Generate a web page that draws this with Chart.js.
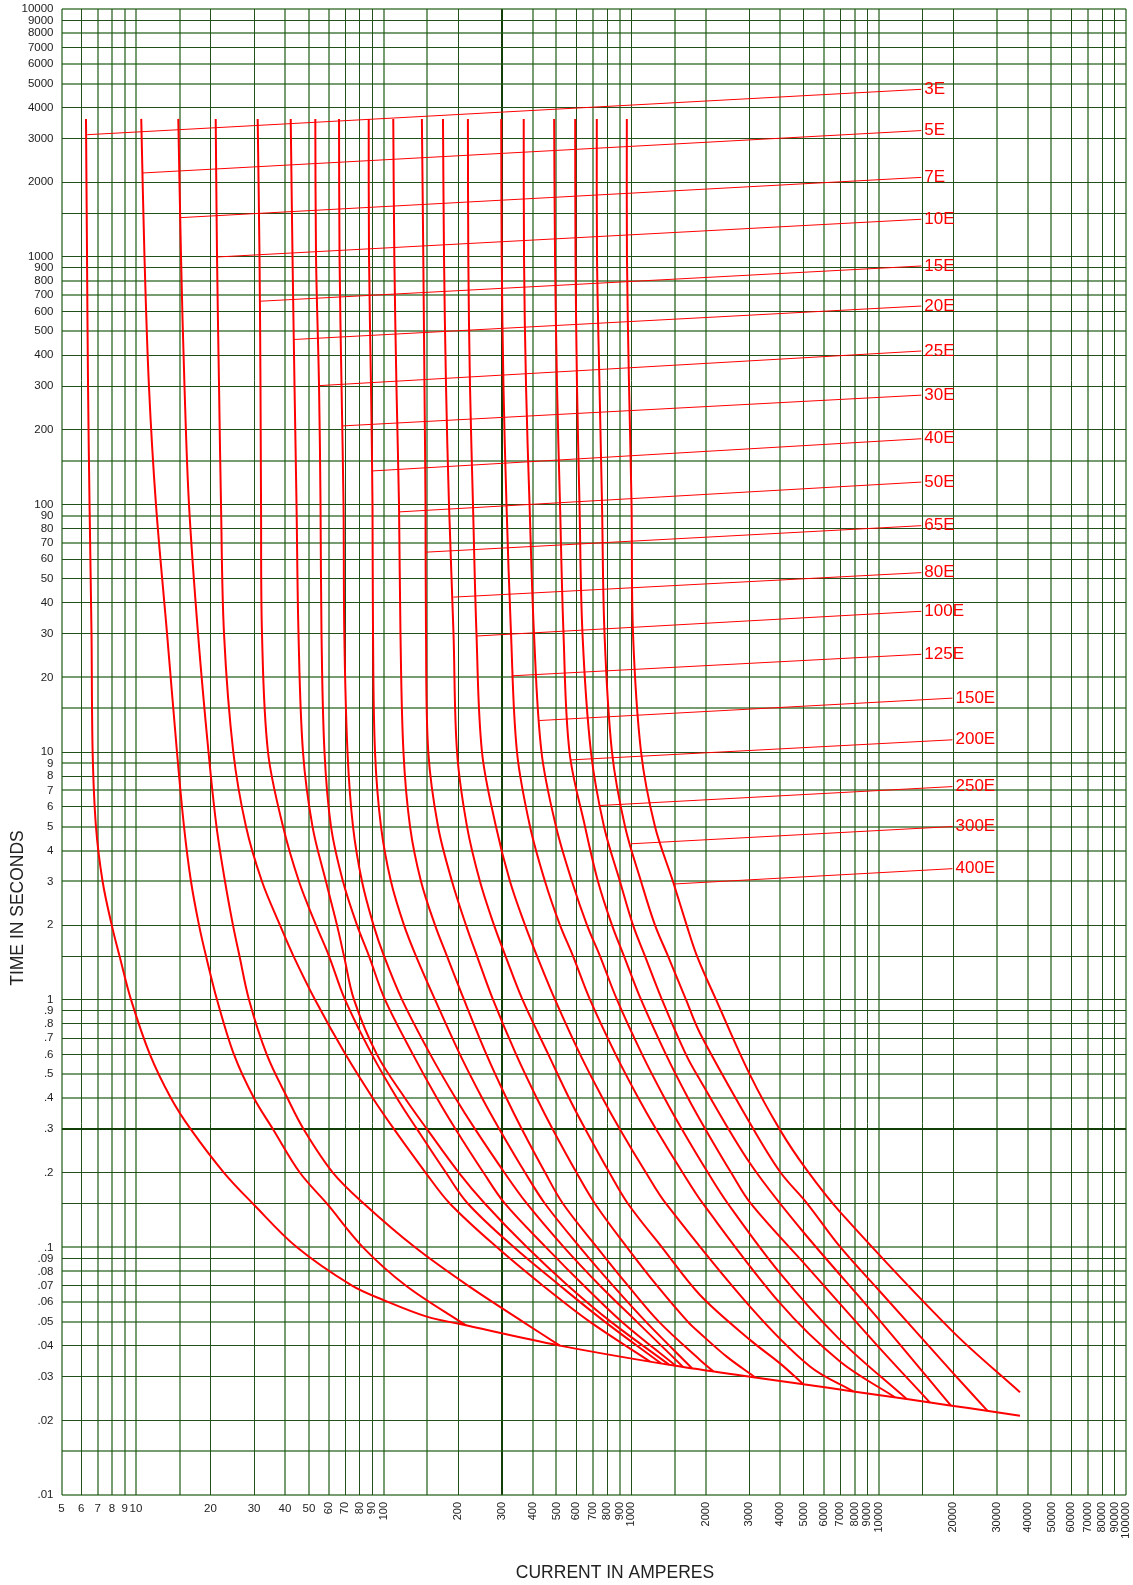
<!DOCTYPE html>
<html>
<head>
<meta charset="utf-8">
<script src="https://cdn.jsdelivr.net/npm/chart.js@4.4.0/dist/chart.umd.min.js"></script>
<style>
  html, body { margin: 0; padding: 0; background: #ffffff; }
  canvas { display: block; }
</style>
</head>
<body>
<canvas id="graficoFusiveis" width="1133" height="1585"></canvas>
<script>
// fuse ratings, in the order of the curves
const ratings = ['3E','5E','7E','10E','15E','20E','25E','30E','40E','50E','65E','80E','100E','125E','150E','200E','250E','300E','400E'];

// each curve: [amperes, seconds], read from the top down
const curve3E = [[6.28,3600],[6.34,1000],[6.40,300],[6.49,100],[6.61,30],[6.68,10],[6.89,5],[7.33,3],[7.98,2],[8.58,1.5],[9.545,1],[11.39,0.6],[13.85,0.4],[16.63,0.3],[22.68,0.2],[29.7,0.15],[44.7,0.1],[74.6,0.07],[99.8,0.0613],[149.5,0.0525]];
// lower line: the 3E curve runs into it and every other curve ends on it
const bottomLine = [[203.8,0.049],[515.6,0.0401],[1490,0.0333],[3120,0.0299],[4970,0.028],[7910,0.0262],[13000,0.0244],[19450,0.023],[27370,0.0219],[37300,0.0209]];
const curve5E = [[10.5,3600],[10.82,1000],[11.28,300],[12.04,100],[13.35,30],[14.64,10],[15.63,5],[16.68,3],[17.97,2],[19.18,1.5],[21.25,1],[24.89,0.6],[29.99,0.4],[35.77,0.3],[45.98,0.2],[59.1,0.15],[82.65,0.1],[123.3,0.07],[215.4,0.0484]];
const curve7E = [[14.82,3600],[15.2,1000],[15.70,300],[16.37,100],[17.81,30],[19.63,10],[21.15,5],[22.89,3],[24.65,2],[26.19,1.5],[28.61,1],[33.77,0.6],[40.94,0.4],[47.56,0.3],[62.52,0.2],[83.41,0.15],[134.1,0.1],[219.5,0.07],[366.2,0.05],[515.6,0.0401]];
const curve10E = [[20.99,3600],[21.25,1000],[21.65,300],[22.05,100],[22.68,30],[24.72,10],[27.82,5],[32.29,3],[38.17,2],[43.28,1.5],[52.9,1],[70.3,0.6],[90.6,0.4],[110.3,0.3],[148.1,0.2],[185.7,0.15],[287.4,0.1],[441,0.07],[682.9,0.05],[1193,0.0346]];
const curve15E = [[31.02,3600],[31.55,1000],[31.84,300],[32.0,100],[32.29,30],[34.14,10],[39.27,5],[45.56,3],[53.37,2],[60.23,1.5],[69.9,1],[89.85,0.6],[113.4,0.4],[136.6,0.3],[178.9,0.2],[219.5,0.15],[336.8,0.1],[516.6,0.07],[785.2,0.05],[1322,0.034]];
const curve20E = [[42.18,3600],[42.89,1000],[43.7,300],[44.52,100],[45.35,30],[47.28,10],[51.66,5],[58.55,3],[64.88,2],[69.25,1.5],[75.99,1],[94.12,0.6],[122.2,0.4],[149.9,0.3],[201.8,0.2],[257.1,0.15],[380,0.1],[556.7,0.07],[830.4,0.05],[1424,0.0336]];
const curve25E = [[53.03,3600],[53.38,1000],[54.89,300],[55.66,100],[56.17,30],[57.75,10],[61.36,5],[68.62,3],[78.16,2],[87.39,1.5],[101.4,1],[131.6,0.6],[164.5,0.4],[195.6,0.3],[253.8,0.2],[309.7,0.15],[453.6,0.1],[645.9,0.07],[919.5,0.05],[1520,0.0332]];
const curve30E = [[66.12,3600],[66.43,1000],[67.67,300],[68.94,100],[69.45,30],[71.53,10],[75.3,5],[81.88,3],[91.12,2],[100.5,1.5],[118.8,1],[154.7,0.6],[195.6,0.4],[234.5,0.3],[308.3,0.2],[380,0.15],[536.3,0.1],[749.6,0.07],[1057,0.05],[1622,0.0329]];
const curve40E = [[87.14,3600],[87.39,1000],[89.03,300],[90.26,100],[90.7,30],[92.4,10],[97.7,5],[107.2,3],[121,2],[135.3,1.5],[161.5,1],[203.8,0.6],[250.5,0.4],[294,0.3],[373.6,0.2],[449.4,0.15],[622.3,0.1],[845.8,0.07],[1150,0.05],[1764,0.0325]];
const curve50E = [[109.5,3600],[110.6,1000],[112.8,300],[115.5,100],[117.1,30],[120.4,10],[128,5],[141.8,3],[161.5,2],[180.5,1.5],[211.5,1],[260.8,0.6],[314,0.4],[362.5,0.3],[450.2,0.2],[531.3,0.15],[728.8,0.1],[972.5,0.07],[1298,0.05],[1900,0.0351],[2150,0.0316]];
const curve65E = [[142.9,3600],[144.8,1000],[146.4,300],[147.8,100],[148.5,30],[151.7,10],[166.1,5],[189.2,3],[215.4,2],[238.7,1.5],[277,1],[343.7,0.6],[416.4,0.4],[482.6,0.3],[602.9,0.2],[715.3,0.15],[963.4,0.1],[1274,0.07],[1699,0.05],[1900,0.045],[2436,0.0362],[3184,0.0298]];
const curve80E = [[173.9,3600],[175.6,1000],[178.9,300],[183.9,100],[191.8,30],[198.2,10],[217.5,5],[245.4,3],[279.6,2],[311.1,1.5],[364.4,1],[463.8,0.6],[562.6,0.4],[653.9,0.3],[818.8,0.2],[972.5,0.15],[1334,0.1],[1900,0.0642],[3026,0.0423],[4000,0.034],[4970,0.028]];
const curve100E = [[219.3,3600],[220.1,1000],[223.6,300],[229.9,100],[237.5,30],[250,10],[284.7,5],[324.5,3],[373.1,2],[417.2,1.5],[493.3,1],[623.4,0.6],[767.9,0.4],[901.7,0.3],[1150,0.2],[1385,0.15],[3026,0.0576],[5287,0.033],[7910,0.0262]];
const curve125E = [[299,3600],[300.3,1000],[305.3,300],[314,100],[327.5,30],[346.2,10],[390.8,5],[449.4,3],[516.6,2],[583.1,1.5],[682.9,1],[867.6,0.6],[1072,0.4],[1263,0.3],[1618,0.2],[1954,0.15],[4000,0.0595],[6988,0.0346],[11660,0.0248]];
const curve150E = [[368.6,3600],[369.6,1000],[376.6,300],[389.1,100],[405.6,30],[434.9,10],[497.7,5],[577.5,3],[664.1,2],[749.6,1.5],[877.7,1],[1110,0.6],[1367,0.4],[1606,0.3],[2047,0.2],[2465,0.15],[4000,0.0786],[6988,0.0423],[13000,0.0244]];
const curve200E = [[489.2,3600],[493.3,1000],[502.4,300],[516.6,100],[533.7,30],[564.2,10],[651.9,5],[735.6,3],[837.8,2],[936.9,1.5],[1098,1],[1385,0.6],[1702,0.4],[1998,0.3],[2540,0.2],[3052,0.15],[5142,0.0836],[9833,0.0404],[16150,0.0236]];
const curve250E = [[595,3600],[596.8,1000],[605.1,300],[619.4,100],[636.8,30],[689,10],[777.9,5],[902.6,3],[1019,2],[1139,1.5],[1334,1],[1668,0.6],[1900,0.474],[3026,0.2185],[4816,0.1197],[10140,0.0505],[19580,0.023]];
const curve300E = [[727.5,3600],[728.8,1000],[746,300],[763.6,100],[781.6,30],[837.8,10],[946,5],[1098,3],[1250,2],[1411,1.5],[1668,1],[1900,0.732],[3026,0.317],[4000,0.202],[5142,0.1506],[6988,0.1006],[10140,0.0663],[20057,0.031],[27520,0.0219]];
const curve400E = [[962,3600],[963,1000],[982,300],[1005,100],[1019,30],[1098,10],[1250,5],[1478,3],[1678,2],[1848,1.5],[2206,1],[3026,0.497],[4000,0.298],[5128,0.2053],[6988,0.139],[19820,0.046],[37300,0.026]];

const curves = [curve3E.concat(bottomLine), curve5E, curve7E, curve10E, curve15E, curve20E, curve25E, curve30E, curve40E, curve50E,
                curve65E, curve80E, curve100E, curve125E, curve150E, curve200E, curve250E, curve300E, curve400E];

// label leaders: from a point on the curve out to the rating text
const leaderStartAmps = [6.35, 10.6, 15.06, 21.25, 31.9, 43.5, 54.9, 68.1, 90.1, 115.5, 148.5, 191.4, 238, 329.6, 426, 570.6, 744.6, 1000, 1482];
const leaderStartSecs = [3108, 2177, 1437, 997, 661, 463, 301.5, 207.3, 136.4, 93.2, 64.1, 42.2, 29.4, 20.3, 13.4, 9.29, 6.08, 4.26, 2.93];
const leaderEndAmps = [14900, 14900, 14900, 14900, 14900, 14900, 14900, 14900, 14900, 14900, 14900, 14900, 14900, 14900, 19900, 19900, 19900, 19900, 19900];
const leaderEndSecs = [4740, 3230, 2090, 1416, 917, 632, 416, 276, 184, 123, 82, 53, 37, 24.8, 16.5, 11.2, 7.25, 5.0, 3.38];

// axis grid and tick labels
const currentTicks = [5,6,7,8,9,10,15,20,30,40,50,60,70,80,90,100,150,200,300,400,500,600,700,800,900,1000,1500,2000,3000,4000,5000,6000,7000,8000,9000,10000,15000,20000,30000,40000,50000,60000,70000,80000,90000,100000];
const currentLabels = ['5','6','7','8','9','10','','20','30','40','50','60','70','80','90','100','','200','300','400','500','600','700','800','900','1000','','2000','3000','4000','5000','6000','7000','8000','9000','10000','','20000','30000','40000','50000','60000','70000','80000','90000','100000'];
const timeTicks = [0.01,0.015,0.02,0.03,0.04,0.05,0.06,0.07,0.08,0.09,0.1,0.15,0.2,0.3,0.4,0.5,0.6,0.7,0.8,0.9,1,1.5,2,3,4,5,6,7,8,9,10,15,20,30,40,50,60,70,80,90,100,150,200,300,400,500,600,700,800,900,1000,1500,2000,3000,4000,5000,6000,7000,8000,9000,10000];
const timeLabels = ['.01','','.02','.03','.04','.05','.06','.07','.08','.09','.1','','.2','.3','.4','.5','.6','.7','.8','.9','1','','2','3','4','5','6','7','8','9','10','','20','30','40','50','60','70','80','90','100','','200','300','400','500','600','700','800','900','1000','','2000','3000','4000','5000','6000','7000','8000','9000','10000'];

// grid lines that print soft and wide on the original sheet
const softCurrentLines = [5,7,8,9,10,15,40,50,60,100,150,400,500,700,900,1500,2000,4000,6000,8000,10000,30000,40000,50000,70000,100000];
const softTimeLines = [0.01,0.015,0.05,0.06,0.08,0.1,0.4,0.5,3,4,5,7,9,15,20,70,90,150,500,700,800,5000,6000,8000,10000];

const vermelho = '#ff0000';
const verdeEscuro = '#22521a';
const verdeSuave = 'rgba(30,90,20,0.6)';
const verdeForte = '#123f08';
const fonte = '"Liberation Sans", Arial, sans-serif';

function corGrade(valor, suaves, destaque) {
    if (valor === destaque) return verdeForte;
    return suaves.includes(valor) ? verdeSuave : verdeEscuro;
}
function larguraGrade(valor, suaves, destaque) {
    if (valor === destaque) return 2;
    return suaves.includes(valor) ? 2 : 1;
}

var datasets = [];
curves.forEach(function (c) {
    datasets.push({
        data: c.map(p => ({ x: p[0], y: p[1] })),
        borderColor: vermelho,
        borderWidth: 2,
        tension: 0.35,
        pointRadius: 0,
        showLine: true,
        fill: false
    });
});
ratings.forEach(function (r, i) {
    datasets.push({
        data: [{ x: leaderStartAmps[i], y: leaderStartSecs[i] }, { x: leaderEndAmps[i], y: leaderEndSecs[i] }],
        borderColor: vermelho,
        borderWidth: 1,
        pointRadius: 0,
        showLine: true,
        fill: false
    });
});

const textosPlugin = {
    id: 'textos',
    afterDraw(chart) {
        const ctx = chart.ctx;
        const xs = chart.scales.x;
        const ys = chart.scales.y;
        const base = chart.chartArea.bottom;
        ctx.save();

        // rating names at the end of each leader
        ctx.fillStyle = vermelho;
        ctx.font = '17px ' + fonte;
        ctx.textAlign = 'left';
        ctx.textBaseline = 'middle';
        ratings.forEach(function (r, i) {
            ctx.fillText(r, xs.getPixelForValue(leaderEndAmps[i]) + 3, ys.getPixelForValue(leaderEndSecs[i]));
        });

        // current tick labels, upright below 60 A, turned from 60 A up
        ctx.fillStyle = '#222222';
        currentTicks.forEach(function (v, i) {
            const txt = currentLabels[i];
            if (!txt) return;
            const px = xs.getPixelForValue(v);
            if (v < 60) {
                ctx.font = '11.5px ' + fonte;
                ctx.textAlign = 'center';
                ctx.textBaseline = 'middle';
                ctx.fillText(txt, px, base + 14);
            } else {
                ctx.save();
                ctx.font = '11px ' + fonte;
                ctx.translate(px, base + 7);
                ctx.rotate(-Math.PI / 2);
                ctx.textAlign = 'right';
                ctx.textBaseline = 'middle';
                ctx.fillText(txt, 0, 0);
                ctx.restore();
            }
        });

        // axis titles
        ctx.font = '17.5px ' + fonte;
        ctx.textAlign = 'center';
        ctx.textBaseline = 'middle';
        ctx.fillText('CURRENT IN AMPERES', 615, 1573);
        ctx.save();
        ctx.translate(18, 908);
        ctx.rotate(-Math.PI / 2);
        ctx.fillText('TIME IN SECONDS', 0, 0);
        ctx.restore();

        ctx.restore();
    }
};

var contexto = document.getElementById('graficoFusiveis').getContext('2d');
var grafico = new Chart(contexto, {
    type: 'scatter',
    data: { datasets: datasets },
    options: {
        responsive: false,
        animation: false,
        events: [],
        layout: { padding: { left: 0, top: 9, right: 7, bottom: 0 } },
        plugins: {
            legend: { display: false },
            tooltip: { enabled: false },
            title: { display: false }
        },
        scales: {
            x: {
                type: 'logarithmic',
                min: 5,
                max: 100000,
                afterBuildTicks: function (scale) {
                    scale.ticks = currentTicks.map(v => ({ value: v }));
                },
                afterFit: function (scale) {
                    scale.height = 90;
                    scale.paddingLeft = 0;
                    scale.paddingRight = 0;
                },
                ticks: { display: false, autoSkip: false },
                grid: {
                    drawTicks: false,
                    color: (c) => corGrade(c.tick && c.tick.value, softCurrentLines, 300),
                    lineWidth: (c) => larguraGrade(c.tick && c.tick.value, softCurrentLines, 300)
                },
                border: { display: false }
            },
            y: {
                type: 'logarithmic',
                min: 0.01,
                max: 10000,
                afterBuildTicks: function (scale) {
                    scale.ticks = timeTicks.map(v => ({ value: v }));
                },
                afterFit: function (scale) {
                    scale.width = 61.5;
                    scale.paddingTop = 0;
                    scale.paddingBottom = 0;
                },
                ticks: {
                    autoSkip: false,
                    padding: 8,
                    color: '#222222',
                    font: { family: fonte, size: 11.5 },
                    callback: function (value, index) { return timeLabels[index]; }
                },
                grid: {
                    drawTicks: false,
                    color: (c) => corGrade(c.tick && c.tick.value, softTimeLines, 0.3),
                    lineWidth: (c) => larguraGrade(c.tick && c.tick.value, softTimeLines, 0.3)
                },
                border: { display: false }
            }
        }
    },
    plugins: [textosPlugin]
});
</script>
</body>
</html>
